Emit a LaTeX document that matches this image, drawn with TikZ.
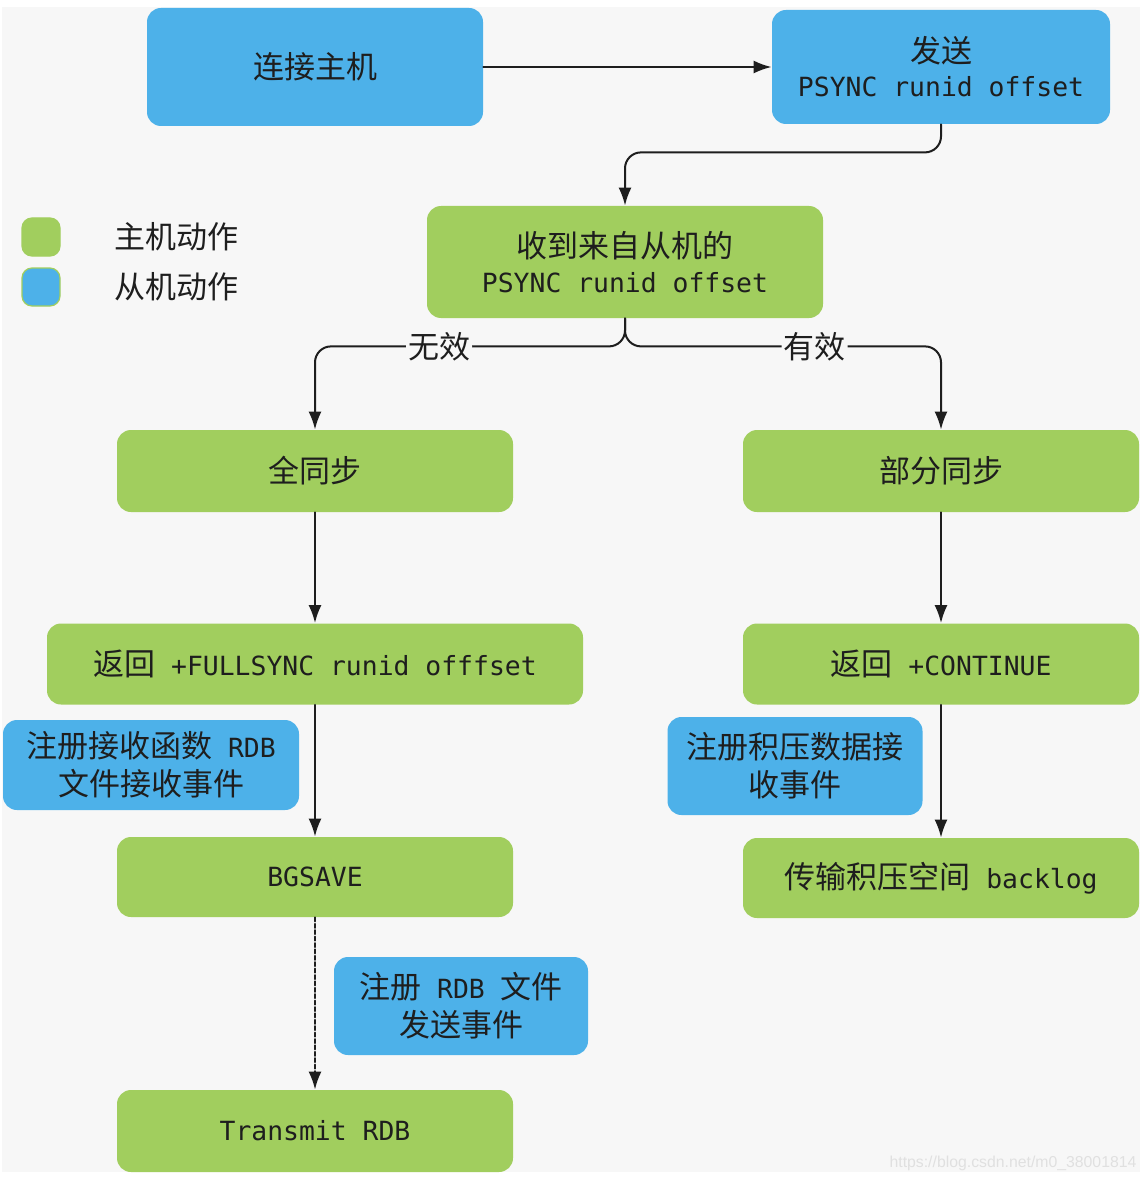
\documentclass[tikz,border=0pt]{standalone}
\usepackage{fontspec}
\setmainfont{DejaVu Sans Mono}
\newfontfamily\cjk{Noto Sans CJK SC}
\newfontfamily\wmfont{Liberation Sans}
\usetikzlibrary{arrows.meta}
\definecolor{bgGray}{HTML}{F7F7F7}
\definecolor{slaveBlue}{HTML}{4DB1E9}
\definecolor{masterGreen}{HTML}{A1CE5E}
\definecolor{inkDark}{HTML}{1E1E1E}
\newcommand{\zh}[1]{{\cjk\fontsize{15.5}{19}\selectfont #1}}
\begin{document}
\begin{tikzpicture}[x=0.5pt,y=-0.5pt,>={Latex[length=9pt,width=6.5pt]}, line join=round, line cap=round,
	hop/.style={rounded corners=7pt, text=inkDark, align=center, inner sep=0pt,
		font=\fontsize{13.2}{19}\selectfont},
	master/.style={hop, fill=masterGreen},
	slave/.style={hop, fill=slaveBlue},
	link/.style={draw=inkDark, line width=1pt},
	tag/.style={fill=bgGray, inner sep=1pt, text=inkDark},
	legendbox/.style={rounded corners=5pt, minimum size=19pt, draw=masterGreen, line width=0.6pt}]
	% nen
	\fill[white] (0,0) rectangle (1146,1182);
	\fill[bgGray] (2,7) rectangle (1140,1172);
	\useasboundingbox (0,0) rectangle (1146,1182);
	% cac buoc
	\node[slave, minimum width=168pt, minimum height=59pt] (conn) at (315,67) {\zh{连接主机}};
	\node[slave, minimum width=169pt, minimum height=57pt] (send) at (941,67) {\zh{发送}\\[-2pt]PSYNC runid offset};
	\node[master, minimum width=198pt, minimum height=56pt] (recv) at (625,262) {\zh{收到来自从机的}\\[-1.5pt]PSYNC runid offset};
	\node[master, minimum width=198pt, minimum height=41pt] (full) at (315,471) {\zh{全同步}};
	\node[master, minimum width=198pt, minimum height=41pt] (part) at (941,471) {\zh{部分同步}};
	\node[master, minimum width=268pt, minimum height=40.5pt] (fullret) at (315,664) {\zh{返回} +FULLSYNC runid offfset};
	\node[master, minimum width=198pt, minimum height=40.5pt] (partret) at (941,664) {\zh{返回} +CONTINUE};
	\node[slave, minimum width=148pt, minimum height=45pt] (regrdb) at (151,765) {\zh{注册接收函数} RDB\\\zh{文件接收事件}};
	\node[slave, minimum width=127.5pt, minimum height=49pt] (regbk) at (795,766) {\zh{注册积压数据接}\\\zh{收事件}};
	\node[master, minimum width=198pt, minimum height=40pt] (bgsave) at (315,877) {BGSAVE};
	\node[master, minimum width=198pt, minimum height=40pt] (backlog) at (941,878) {\zh{传输积压空间} backlog};
	\node[slave, minimum width=127pt, minimum height=49pt] (regsend) at (461,1006) {\zh{注册} RDB \zh{文件}\\\zh{发送事件}};
	\node[master, minimum width=198pt, minimum height=41pt] (trans) at (315,1131) {Transmit RDB};
	% chu thich
	\foreach \y/\mau/\ten in {237/masterGreen/主机动作, 287/slaveBlue/从机动作}{
		\node[legendbox, fill=\mau] (box\y) at (41,\y) {};
		\node[anchor=west, inner sep=0pt, text=inkDark] (txt\y) at (114,\y) {\zh{\ten}};
	}
	% mui ten
	\draw[link,->] (conn) -- (send);
	\draw[link,->,rounded corners=8pt] (send.south) -- ++(0,28) -| (recv.north);
	\draw[link,->,rounded corners=8pt] (recv.south) -- ++(0,28) -| node[tag, pos=0.3]{\zh{无效}} (full.north);
	\draw[link,->,rounded corners=8pt] (recv.south) -- ++(0,28) -| node[tag, pos=0.3]{\zh{有效}} (part.north);
	\draw[link,->] (full) -- (fullret);
	\draw[link,->] (part) -- (partret);
	\draw[link,->] (fullret) -- (bgsave);
	\draw[link,->] (partret) -- (backlog);
	\draw[link,->,dash pattern=on 2pt off 1.2pt] (bgsave) -- (trans);
	% dau nuoc
	\node[text=black!12, inner sep=0pt, font=\wmfont\fontsize{7.9}{8}\selectfont] (wm) at (1013,1163) {https://blog.csdn.net/m0\_38001814};
\end{tikzpicture}
\end{document}
